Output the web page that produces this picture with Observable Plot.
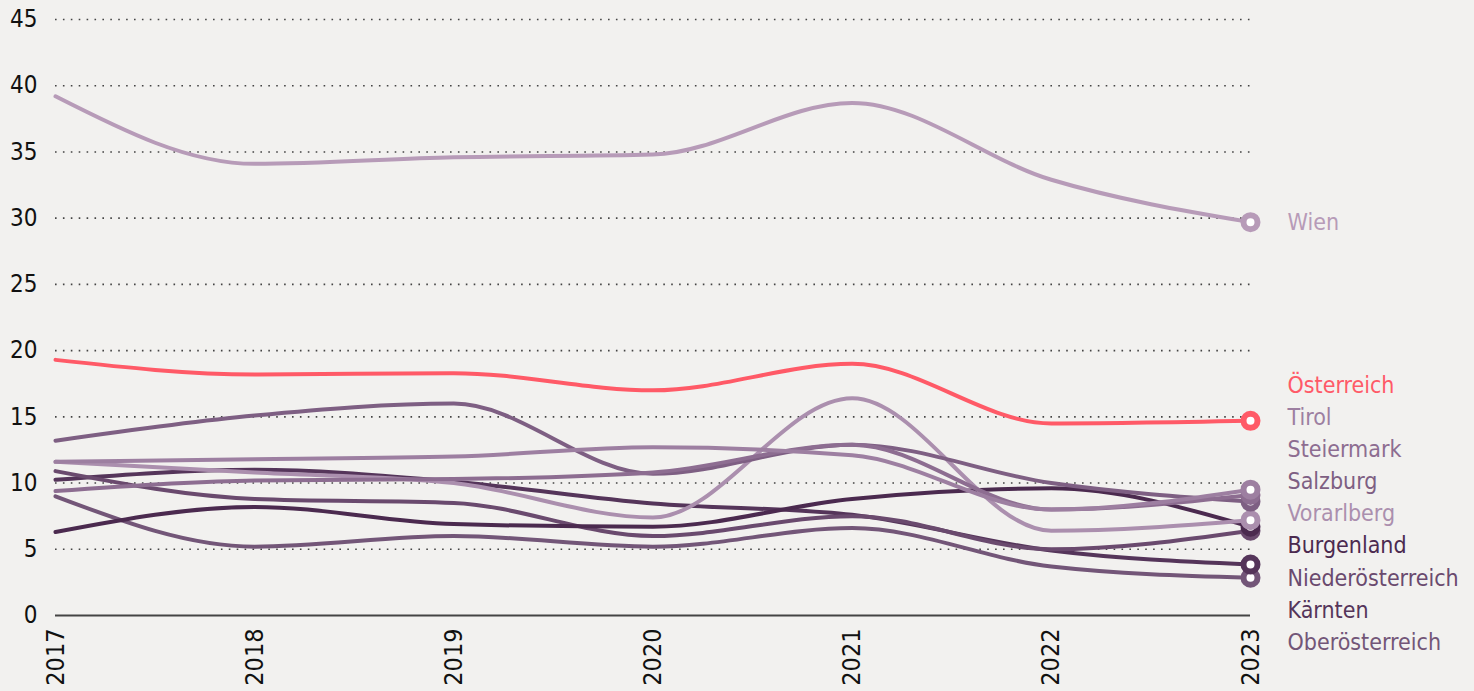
<!DOCTYPE html>
<html>
<head>
<meta charset="utf-8">
<script src="https://cdn.jsdelivr.net/npm/d3@7"></script>
<script src="https://cdn.jsdelivr.net/npm/@observablehq/plot@0.6"></script>
<style>
  html, body { margin: 0; padding: 0; background: #f2f1ef; }
  #chart { width: 1474px; height: 691px; overflow: hidden; }
</style>
</head>
<body>
<div id="chart"></div>
<script>
const years = [2017, 2018, 2019, 2020, 2021, 2022, 2023];
const yTicks = [0, 5, 10, 15, 20, 25, 30, 35, 40, 45];

const wien             = [39.2, 34.1, 34.6, 34.8, 38.7, 32.9, 29.7];
const oesterreich      = [19.3, 18.2, 18.3, 17.0, 19.0, 14.5, 14.7];
const tirol            = [11.6, 11.8, 12.0, 12.7, 12.1, 8.0, 9.5];
const steiermark       = [9.4, 10.2, 10.3, 10.8, 12.9, 8.0, 9.1];
const salzburg         = [13.2, 15.1, 16.0, 10.7, 12.9, 10.0, 8.6];
const vorarlberg       = [11.6, 10.8, 10.0, 7.4, 16.4, 6.4, 7.2];
const burgenland       = [6.3, 8.2, 6.9, 6.7, 8.8, 9.6, 6.7];
const niederoesterreich= [10.9, 8.8, 8.5, 6.0, 7.5, 5.0, 6.4];
const kaernten         = [10.25, 11.0, 10.1, 8.45, 7.6, 4.9, 3.85];
const oberoesterreich  = [9.0, 5.2, 6.0, 5.2, 6.6, 3.7, 2.85];

const regionNames = ["Wien", "Oberösterreich", "Kärnten", "Niederösterreich", "Burgenland",
  "Vorarlberg", "Salzburg", "Steiermark", "Tirol", "Österreich"];
const regionValues = [wien, oberoesterreich, kaernten, niederoesterreich, burgenland,
  vorarlberg, salzburg, steiermark, tirol, oesterreich];
const regionColors = ["#b79bb8", "#735678", "#55355a", "#6a4a6e", "#4b2a4f",
  "#ab8fae", "#7e5f83", "#8d6d91", "#9d7fa1", "#ff5a67"];

const colorOf = new Map(regionNames.map((n, i) => [n, regionColors[i]]));

const rows = regionNames.flatMap((name, i) =>
  years.map((year, j) => ({ region: name, year, value: regionValues[i][j] })));
const lastRows = rows.filter(d => d.year === 2023);

// legend labels: Wien at its end value, others stacked in order of 2023 value
const legendTop = 17.37, legendStep = 2.425;
const stacked = lastRows.filter(d => d.region !== "Wien").sort((a, b) => b.value - a.value);
const labels = [
  ...stacked.map((d, i) => ({ region: d.region, year: 2023, pos: legendTop - i * legendStep })),
  { region: "Wien", year: 2023, pos: wien[wien.length - 1] }
];

const font = "'Liberation Sans Narrow', 'DejaVu Sans Condensed', 'Open Sans', sans-serif";

const chart = Plot.plot({
  width: 1474,
  height: 691,
  marginLeft: 55,
  marginRight: 224,
  marginTop: 19,
  marginBottom: 76,
  style: { background: "#f2f1ef", fontFamily: font, color: "#111" },
  x: { type: "linear", domain: [2017, 2023] },
  y: { domain: [0, 45] },
  marks: [
    Plot.ruleY(yTicks.filter(t => t > 0), { stroke: "#444", strokeWidth: 1.6, strokeDasharray: "1.6,6.3" }),
    Plot.ruleY([0], { stroke: "#444", strokeWidth: 2.2 }),
    Plot.axisY({ ticks: yTicks, tickSize: 0, tickPadding: 18, label: null, fontSize: 24, fill: "#111" }),
    Plot.axisX({ ticks: years, tickSize: 0, tickPadding: 13, tickRotate: -90, label: null,
      tickFormat: d => String(d), fontSize: 25, fill: "#111" }),
    Plot.line(rows, { x: "year", y: "value", z: "region", stroke: d => colorOf.get(d.region),
      strokeWidth: 4, curve: "monotone-x" }),
    Plot.dot(lastRows, { x: "year", y: "value", r: 7, fill: "white",
      stroke: d => colorOf.get(d.region), strokeWidth: 6 }),
    Plot.text(labels, { x: "year", y: "pos", text: "region", dx: 37, textAnchor: "start",
      fill: d => colorOf.get(d.region), fontSize: 23 })
  ]
});

document.getElementById("chart").appendChild(chart);
</script>
</body>
</html>
